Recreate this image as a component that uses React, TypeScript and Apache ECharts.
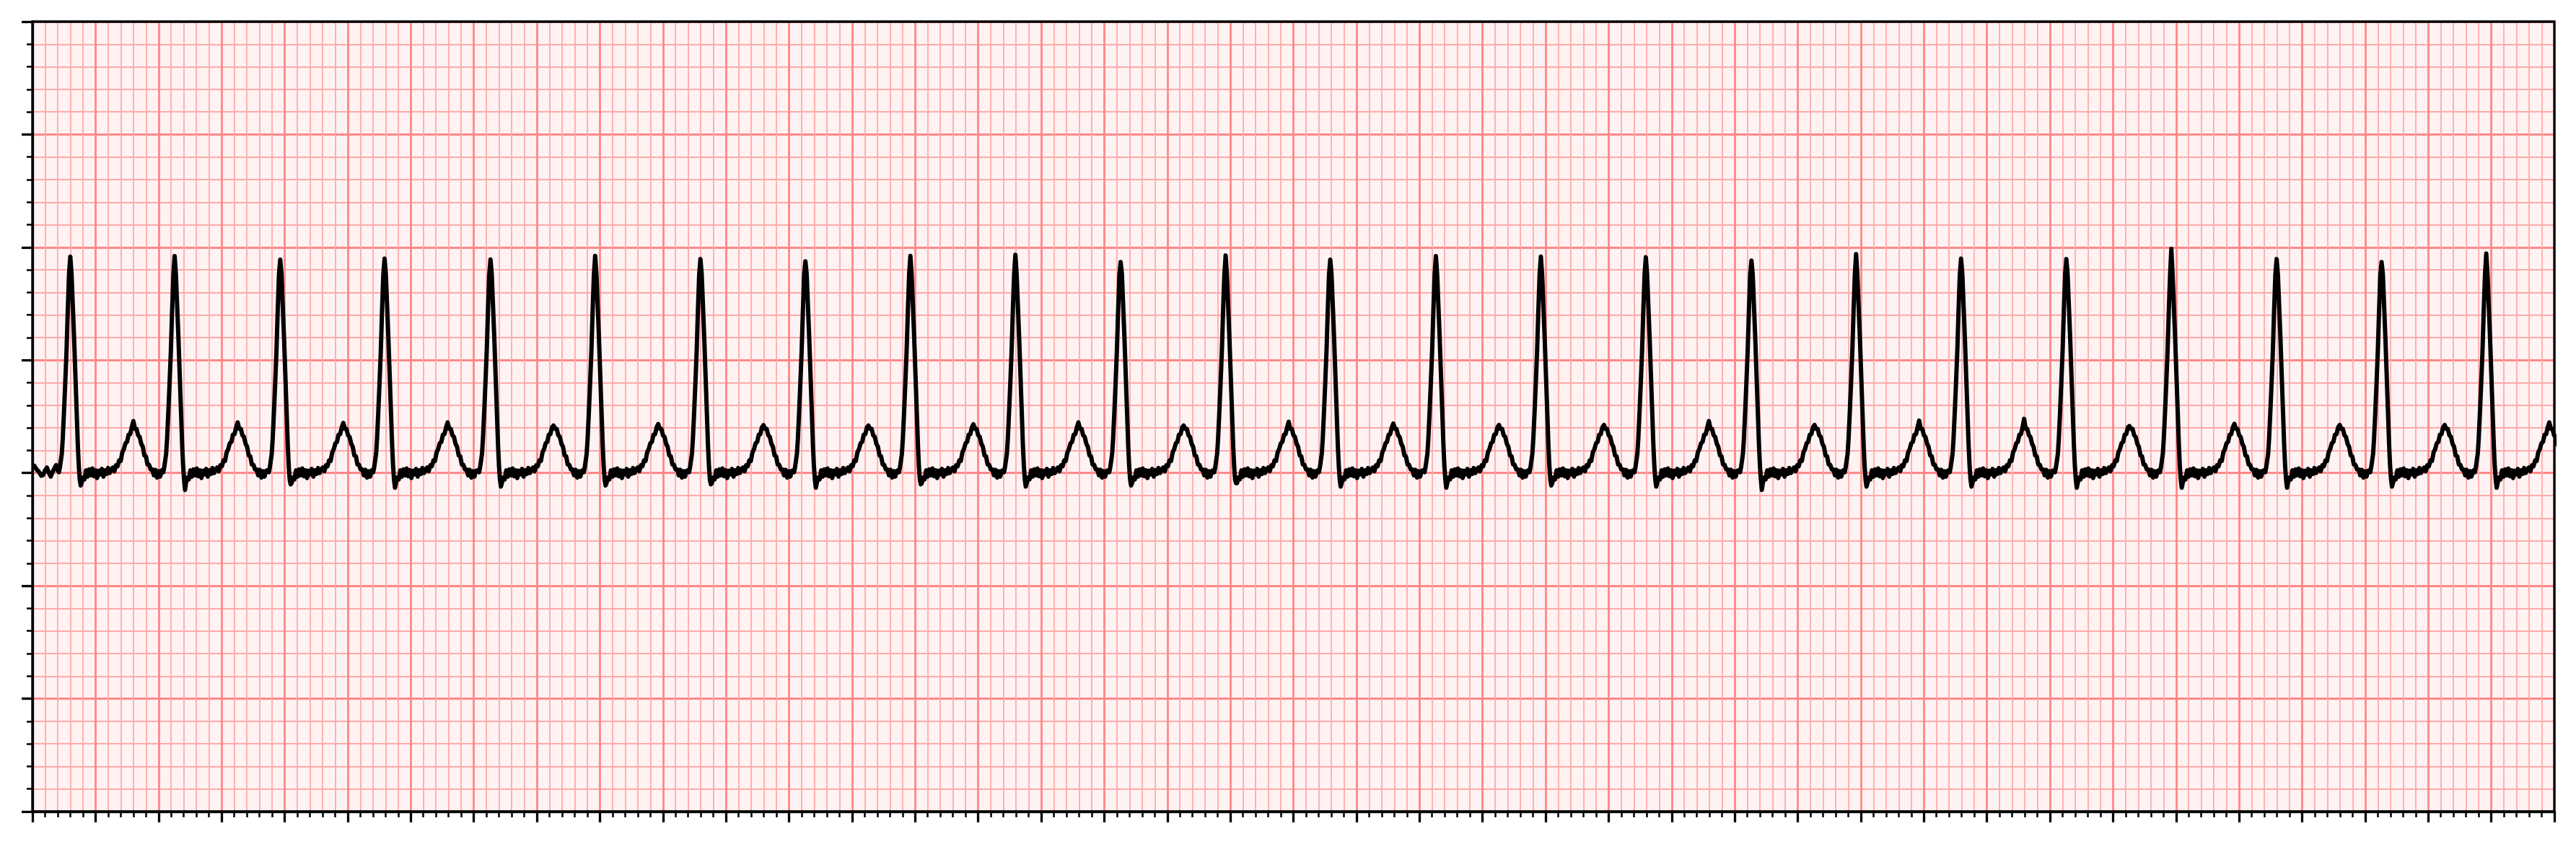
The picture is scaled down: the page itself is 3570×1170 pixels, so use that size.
import React, { useEffect, useRef } from "react";
import * as echarts from "echarts";

// ---- axes ----
const X_MIN = 0;
const X_MAX = 8;
const X_MAJOR = 0.2;
const Y_MIN = -1.5;
const Y_MAX = 2.0;
const Y_MAJOR = 0.5;
const MINOR_SPLITS = 5;

// ---- data ----
// time (s) of each R peak
const R_TIMES = [
  0.120, 0.451, 0.786, 1.117, 1.453, 1.785, 2.119, 2.452, 2.785, 3.118, 3.452, 3.785,
  4.117, 4.452, 4.785, 5.118, 5.453, 5.785, 6.118, 6.452, 6.785, 7.119, 7.452, 7.784,
];
// amplitude (mV) of each R peak
const R_AMPS = [
  0.959, 0.961, 0.945, 0.950, 0.946, 0.962, 0.948, 0.938, 0.962, 0.967, 0.935, 0.964,
  0.945, 0.961, 0.959, 0.956, 0.941, 0.970, 0.950, 0.948, 0.993, 0.948, 0.935, 0.972,
];
// amplitude (mV) of the T wave following each R peak
const T_AMPS = [
  0.230, 0.224, 0.222, 0.224, 0.210, 0.217, 0.212, 0.210, 0.216, 0.224, 0.210, 0.227,
  0.219, 0.213, 0.213, 0.230, 0.213, 0.232, 0.240, 0.208, 0.218, 0.213, 0.213, 0.224,
];
// depth (mV) of the S dip following each R peak
const S_AMPS = [
  -0.055, -0.075, -0.050, -0.065, -0.060, -0.055, -0.050, -0.065, -0.050, -0.060, -0.055, -0.045,
  -0.060, -0.065, -0.055, -0.060, -0.075, -0.060, -0.060, -0.065, -0.065, -0.065, -0.060, -0.065,
];
// trace before the first beat
const LEAD_IN_TIMES = [0, 0.006, 0.012, 0.02, 0.028, 0.034, 0.04, 0.046, 0.052, 0.058, 0.064, 0.07, 0.075];
const LEAD_IN_VALUES = [0.028, 0.032, 0.018, 0.006, -0.012, -0.008, 0.012, 0.024, 0.0, -0.016, 0.006, 0.022, 0.035];
// one beat: offset from the R peak (s) and value (mV)
const BEAT_OFFSETS = [
  -0.04, -0.036, -0.033, -0.03, -0.027, -0.024, -0.02, -0.016, -0.012, -0.008, -0.004, 0,
  0.004, 0.008, 0.012, 0.016, 0.02, 0.024, 0.027, 0.03, 0.033, 0.036, 0.04, 0.045,
  0.05, 0.055, 0.06, 0.065, 0.07, 0.075, 0.08, 0.085, 0.09, 0.095, 0.1, 0.105,
  0.11, 0.115, 0.12, 0.125, 0.13, 0.135, 0.14, 0.145, 0.15, 0.155, 0.16, 0.165,
  0.17, 0.175, 0.18, 0.185, 0.19, 0.195, 0.2, 0.205, 0.21, 0.215, 0.22, 0.225,
  0.23, 0.235, 0.24, 0.245, 0.25, 0.255, 0.26, 0.265, 0.27, 0.275, 0.28, 0.285, 0.29,
];
const BEAT_VALUES = [
  0.012, 0.004, 0.025, 0.055, 0.085, 0.15, 0.27, 0.4, 0.54, 0.72, 0.88, 0.95,
  0.88, 0.74, 0.6, 0.44, 0.28, 0.12, 0.03, -0.03, -0.055, -0.045, -0.02, -0.028,
  0.012, -0.016, 0.016, -0.01, 0.02, -0.014, 0.012, -0.022, 0.01, -0.006, 0.018, -0.016,
  0.012, -0.004, 0.022, 0.0, 0.016, 0.024, 0.008, 0.034, 0.03, 0.056, 0.054, 0.092,
  0.106, 0.132, 0.138, 0.17, 0.172, 0.202, 0.215, 0.196, 0.196, 0.168, 0.16, 0.13,
  0.116, 0.078, 0.074, 0.038, 0.036, 0.016, 0.016, -0.01, 0.014, -0.02, 0.008, -0.016, 0.01,
];
const R_OFFSET = 0;
const S_OFFSET = 0.033;
const T_OFFSET = 0.2;

// ---- layout / style ----
const W = 3570;
const H = 1170;
const GRID = { left: 45, top: 30, right: 30, bottom: 45 };
const PAPER = "#fff2f2";
const MAJOR_GRID = "#ff8787";
const MINOR_GRID = "#ffaaaa";

function buildTrace(): [number, number][] {
  const pts: [number, number][] = [];
  LEAD_IN_TIMES.forEach((t, i) => pts.push([t, LEAD_IN_VALUES[i]]));
  R_TIMES.forEach((rt, b) => {
    BEAT_OFFSETS.forEach((off, j) => {
      let v = BEAT_VALUES[j];
      if (off === R_OFFSET) v = R_AMPS[b];
      else if (off === S_OFFSET) v = S_AMPS[b];
      else if (off === T_OFFSET) v = T_AMPS[b];
      pts.push([Math.round((rt + off) * 10000) / 10000, v]);
    });
  });
  return pts;
}

export default function App() {
  const ref = useRef<HTMLDivElement>(null);
  useEffect(() => {
    if (!ref.current) return;
    const chart = echarts.init(ref.current, undefined, { renderer: "svg", width: W, height: H });
    const axisCommon = {
      axisLabel: { show: false },
      axisLine: { show: true, onZero: false, lineStyle: { color: "#000", width: 3.3 } },
      splitLine: { show: true, lineStyle: { color: MAJOR_GRID, width: 2.8 } },
      minorSplitLine: { show: true, lineStyle: { color: MINOR_GRID, width: 1.8 } },
      axisTick: { show: true, inside: false, length: 15, lineStyle: { color: "#000", width: 3.3 } },
      minorTick: { show: true, splitNumber: MINOR_SPLITS, length: 8, lineStyle: { color: "#000", width: 2.5 } },
    };
    chart.setOption({
      animation: false,
      backgroundColor: "#ffffff",
      grid: {
        ...GRID,
        show: true,
        backgroundColor: PAPER,
        borderWidth: 0,
        containLabel: false,
      },
      xAxis: {
        type: "value",
        min: X_MIN,
        max: X_MAX,
        interval: X_MAJOR,
        position: "bottom",
        ...axisCommon,
      },
      yAxis: {
        type: "value",
        min: Y_MIN,
        max: Y_MAX,
        interval: Y_MAJOR,
        position: "left",
        ...axisCommon,
      },
      series: [
        {
          type: "line",
          data: buildTrace(),
          showSymbol: false,
          symbol: "none",
          clip: true,
          z: 5,
          lineStyle: { color: "#000000", width: 6, join: "round", cap: "butt" },
        },
      ],
      graphic: [
        {
          type: "rect",
          z: 100,
          silent: true,
          shape: {
            x: GRID.left,
            y: GRID.top,
            width: W - GRID.left - GRID.right,
            height: H - GRID.top - GRID.bottom,
          },
          style: { fill: "none", stroke: "#000000", lineWidth: 3.3 },
        },
      ],
    });
    return () => chart.dispose();
  }, []);
  return (
    <div
      ref={ref}
      style={{ position: "fixed", left: 0, top: 0, width: W, height: H, background: "#fff" }}
    />
  );
}
